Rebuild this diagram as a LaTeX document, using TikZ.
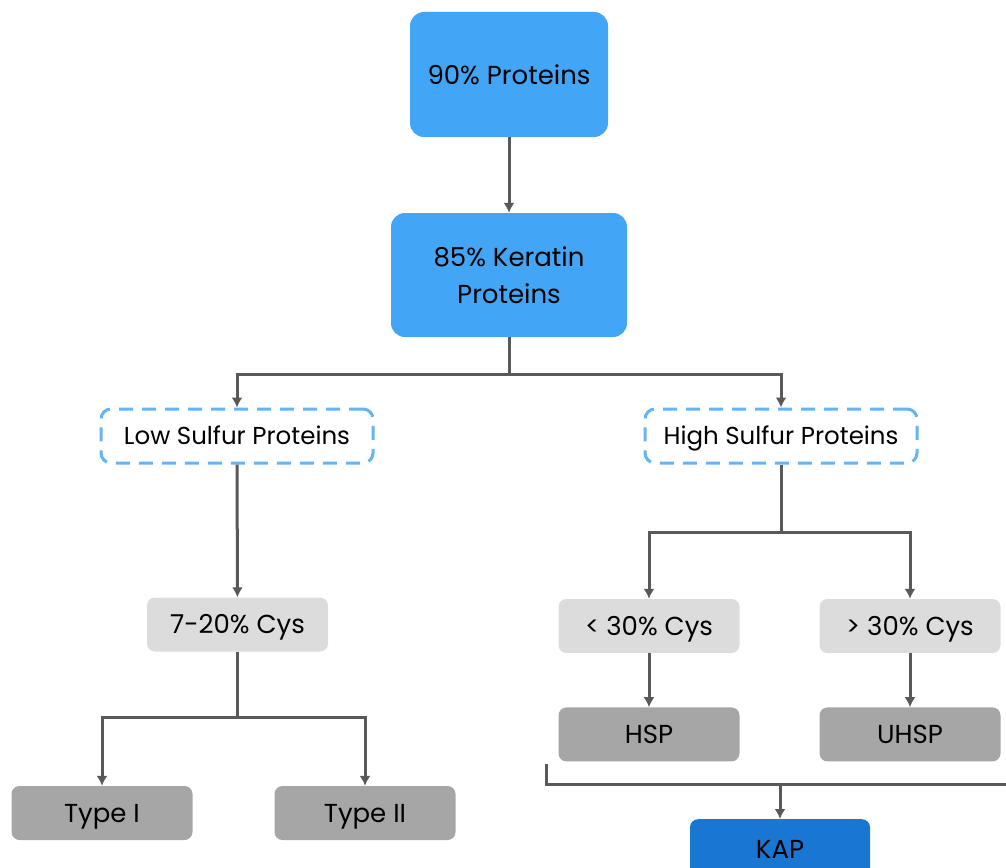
\documentclass[tikz,border=0pt]{standalone}
\usepackage{fontspec}
\setmainfont{Poppins}
\usepackage{xcolor}
\usepackage{tikz}
\usetikzlibrary{positioning,arrows.meta}

\definecolor{topblue}{HTML}{42A5F5}
\definecolor{dashblue}{HTML}{64B5F6}
\definecolor{kapblue}{HTML}{1976D2}
\definecolor{lightgrey}{HTML}{DCDCDC}
\definecolor{darkgrey}{HTML}{A6A6A6}
\definecolor{linegrey}{HTML}{595959}

\begin{document}
\begin{tikzpicture}[x = 1pt, y = -1pt, node distance = 54pt,
        >={Latex[length=10pt,width=11pt]}]
            \tikzstyle{big} = [rectangle, rounded corners = 14pt, fill=topblue, inner sep=0pt, minimum width=198pt, minimum height=125pt, font=\fontsize{26}{37}\selectfont, align=center];
            \tikzstyle{group} = [rectangle, rounded corners = 10pt, draw=dashblue, line width=3pt, dash pattern=on 14pt off 9pt, inner sep=0pt, minimum width=272pt, minimum height=54pt, font=\fontsize{24.5}{28}\selectfont, text height=17pt, text depth=0pt];
            \tikzstyle{cys} = [rectangle, rounded corners = 8pt, fill=lightgrey, inner sep=0pt, minimum width=181pt, minimum height=54pt, font=\fontsize{26}{30}\selectfont, text height=18.5pt, text depth=0pt];
            \tikzstyle{kind} = [cys, fill=darkgrey];
            \tikzstyle{link} = [draw=linegrey, line width=3pt];
            \useasboundingbox (0,0) rectangle (1006,867);

            \node [big] (prot) at (509,74.5) {90\% Proteins};
            \node [big, minimum width=236pt, minimum height=124pt] (ker) at (509,275) {85\% Keratin\\Proteins};

            \node [group] (low) at (237,436) {Low Sulfur Proteins};
            \node [group] (high) at (781,436) {High Sulfur Proteins};

            \node [cys] (cys) at (237.5,624.5) {7-20\% Cys};
            \node [kind] (t1) at (102,813) {Type I};
            \node [kind] (t2) at (365,813) {Type II};

            \node [cys] (lt) at (649,626) {< 30\% Cys};
            \node [cys] (gt) at (910,626) {> 30\% Cys};
            \node [kind, below = of lt] (hsp) {HSP};
            \node [kind, below = of gt] (uhsp) {UHSP};

            \node [kind, fill=kapblue, minimum width=180pt, minimum height=60pt, anchor=north] (kap) at (780,819) {KAP};
            \coordinate (capL) at (546,764);
            \coordinate (capR) at (1012,784);

            \draw [link, ->] (prot) to (ker);
            \draw [link, ->] (ker.south) -- ++(0,37) -| (low.north);
            \draw [link, ->] (ker.south) -- ++(0,37) -| (high.north);
            \draw [link, ->] (low) to (cys);
            \draw [link, ->] (cys.south) -- ++(0,66) -| (t1.north);
            \draw [link, ->] (cys.south) -- ++(0,66) -| (t2.north);
            \draw [link, ->] (high.south) -- ++(0,68) -| (lt.north);
            \draw [link, ->] (high.south) -- ++(0,68) -| (gt.north);
            \draw [link, ->] (lt) to (hsp);
            \draw [link, ->] (gt) to (uhsp);
            \draw [link] (capL) |- (capR);
            \draw [link, ->] (kap.north |- capR) to (kap.north);
        \end{tikzpicture}
\end{document}
